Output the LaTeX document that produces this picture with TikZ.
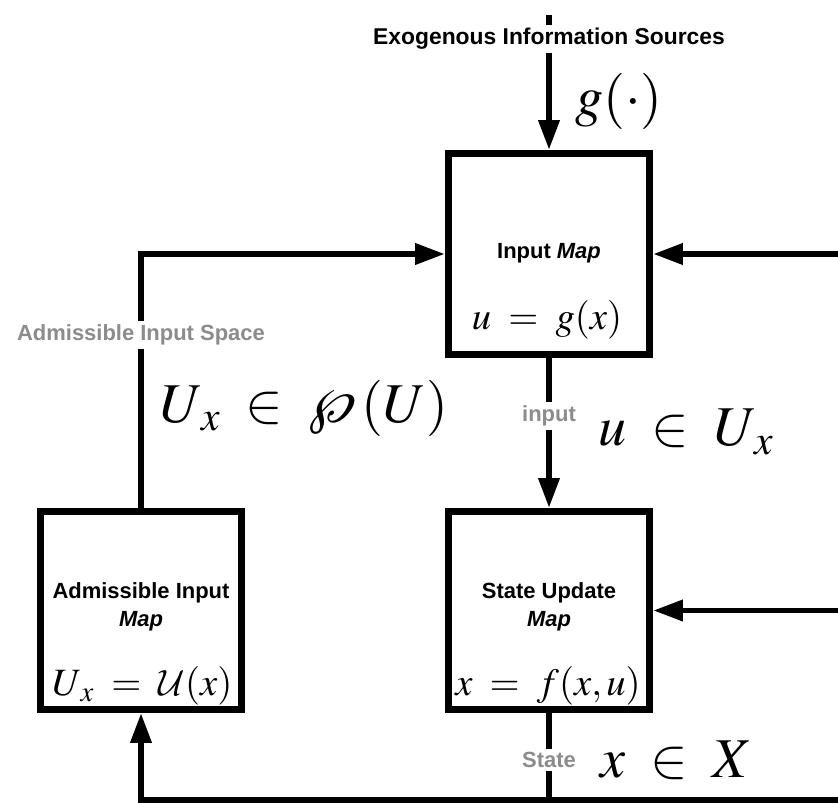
\documentclass[tikz,border=0pt]{standalone}
\usepackage{mathptmx}
\usepackage{fontspec}
\setmainfont{Liberation Sans}
\usetikzlibrary{arrows.meta}
\DeclareMathAlphabet{\cmcal}{OMS}{cmsy}{m}{n}
\definecolor{labelgray}{HTML}{8C8C8C}

\begin{document}
\begin{tikzpicture}[x=0.02cm,y=-0.02cm,
  mapbox/.style={draw,line width=4pt,minimum width=4.02cm,inner sep=0pt},
  conn/.style={line width=3.4pt},
  arr/.style={conn,-{Triangle[length=17pt,width=11.5pt]}},
  title/.style={font=\fontsize{12.5}{16}\selectfont\bfseries,align=center},
  gaplabel/.style={font=\fontsize{12.5}{16}\selectfont\bfseries,text=labelgray,fill=white,inner sep=2pt},
  bigmath/.style={font=\fontsize{32}{36}\selectfont,inner sep=0pt},
  boxmath/.style={font=\fontsize{22}{26}\selectfont,inner sep=0pt}]
\useasboundingbox (0,0) rectangle (838,803);
% the three maps
\node[mapbox,minimum height=4.02cm] (inmap) at (549,254) {};
\node[mapbox,minimum height=3.96cm] (state) at (549,610.5) {};
\node[mapbox,minimum height=3.96cm] (adm) at (141,610.5) {};
\node[title] (intitle) at (549,253) {Input \textit{Map}};
\node[boxmath] (inform) at (547,320) {$u\;=\;g(x)$};
\node[title] (sttitle) at (549,607) {State Update\\\textit{Map}};
\node[boxmath] (stform) at (548,686) {$x\;=\;f(x,u)$};
\node[title] (admtitle) at (141,607) {Admissible Input\\\textit{Map}};
\node[boxmath,anchor=west] (admform) at (52,686) {$U_{\,x}\;=\;\cmcal{U}(x)$};
% connectors
\coordinate (src) at (549,15);
\coordinate (rim) at (838,800);
\draw[arr] (src) -- (inmap.north);
\draw[arr] (inmap.south) -- (state.north);
\draw[arr] (adm.north) |- (inmap.west);
\draw[arr] (inmap.east -| rim) -- (inmap.east);
\draw[arr] (state.east -| rim) -- (state.east);
\draw[conn] (state.south) -- (state.south |- rim);
\draw[arr] (rim) -- (adm.south |- rim) -- (adm.south);
% labels
\node[title,fill=white,inner sep=2pt,font=\fontsize{13}{16}\selectfont\bfseries] (exo) at (549,39) {Exogenous Information Sources};
\node[bigmath,anchor=west] (gdot) at (575,101) {$g(\cdot)$};
\node[gaplabel] (inlab) at (549,416) {input};
\node[bigmath,anchor=west] (ulab) at (598,432) {$u\;\in\;U_{\,x}$};
\node[gaplabel] (stlab) at (549,760) {State};
\node[bigmath,anchor=west] (xlab) at (600,760) {$x\;\in\;X$};
\node[gaplabel] (admlab) at (141,335) {Admissible Input Space};
\node[bigmath,anchor=west] (uxlab) at (160,408) {$U_{\,x}\;\in\;\wp\mkern3mu(U)$};
\end{tikzpicture}
\end{document}
